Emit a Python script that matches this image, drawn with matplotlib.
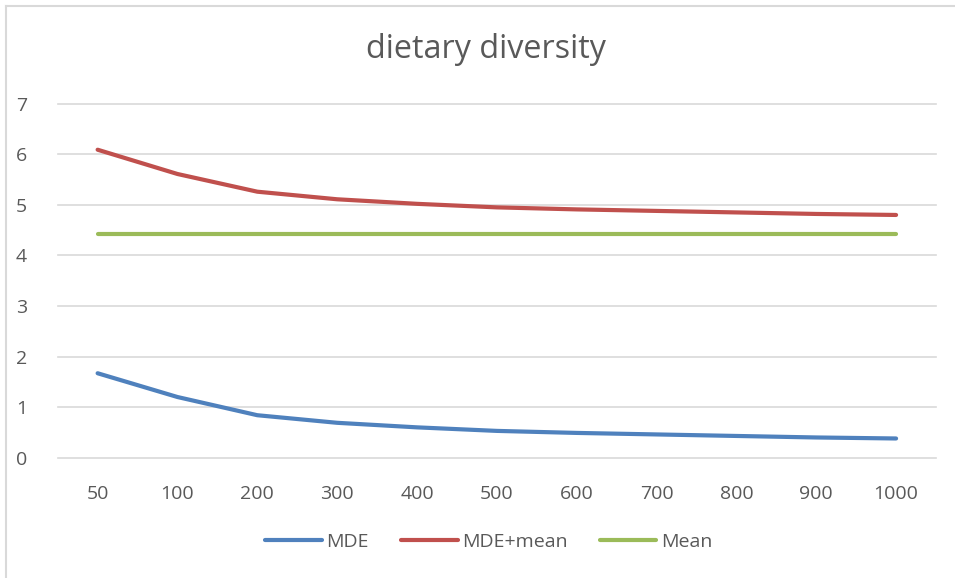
import matplotlib
matplotlib.use("Agg")
import matplotlib.pyplot as plt
from matplotlib.lines import Line2D

categories = ["50", "100", "200", "300", "400", "500", "600", "700", "800", "900", "1000"]
mde = [1.67, 1.20, 0.84, 0.69, 0.60, 0.53, 0.49, 0.46, 0.43, 0.40, 0.38]
mde_mean = [6.09, 5.61, 5.26, 5.11, 5.02, 4.95, 4.91, 4.88, 4.85, 4.82, 4.80]
mean = [4.42] * 11
yticks = [0, 1, 2, 3, 4, 5, 6, 7]

FONT = "Open Sans"
TXT = "#595959"
GRID = "#d9d9d9"
FS = 14

W, H = 955, 578
fig = plt.figure(figsize=(W / 100, H / 100), dpi=100)
ax = fig.add_axes([57.7 / W, 1 - 457.7 / H, (936 - 57.7) / W, (457.7 - 103.7) / H])

x = list(range(len(categories)))
series = [("MDE", mde, "#4f81bd"), ("MDE+mean", mde_mean, "#c0504d"), ("Mean", mean, "#9bbb59")]
for name, vals, col in series:
    ax.plot(x, vals, color=col, lw=3.0, solid_capstyle="round", solid_joinstyle="round", label=name, zorder=3)

ax.set_xlim(-0.5, len(categories) - 0.5)
ax.set_ylim(0, 7)
ax.set_yticks(yticks)
ax.set_yticklabels([str(t) for t in yticks])
ax.set_xticks(x)
ax.set_xticklabels(categories)
ax.grid(axis="y", color=GRID, lw=1.2, zorder=0)
for gl in ax.get_ygridlines():
    gl.set_clip_on(False)
ax.tick_params(length=0, labelsize=FS, labelcolor=TXT)
ax.tick_params(axis="x", pad=20)
ax.tick_params(axis="y", pad=22)
for lab in ax.get_xticklabels() + ax.get_yticklabels():
    lab.set_fontfamily(FONT)
for s in ax.spines.values():
    s.set_visible(False)

fig.text(485.5 / W, 1 - 49 / H, "dietary diversity", ha="center", va="center",
         fontsize=23.3, color=TXT, family=FONT)

handles = [Line2D([0], [0], color=c, lw=3.0, solid_capstyle="round") for _, _, c in series]
leg = fig.legend(handles, [s[0] for s in series], loc="center", bbox_to_anchor=(489 / W, 1 - 542 / H),
                 ncol=3, frameon=False, handlelength=2.9, handletextpad=0.25, columnspacing=1.65,
                 prop={"family": FONT, "size": FS})
for t in leg.get_texts():
    t.set_color(TXT)

# chart-area border (top and left visible)
fig.add_artist(Line2D([5.5 / W, 1], [1 - 5.5 / H, 1 - 5.5 / H], color=GRID, lw=1.5, transform=fig.transFigure))
fig.add_artist(Line2D([5.5 / W, 5.5 / W], [0, 1 - 5.5 / H], color=GRID, lw=1.5, transform=fig.transFigure))

fig.savefig("out.png", dpi=100, facecolor="white")
